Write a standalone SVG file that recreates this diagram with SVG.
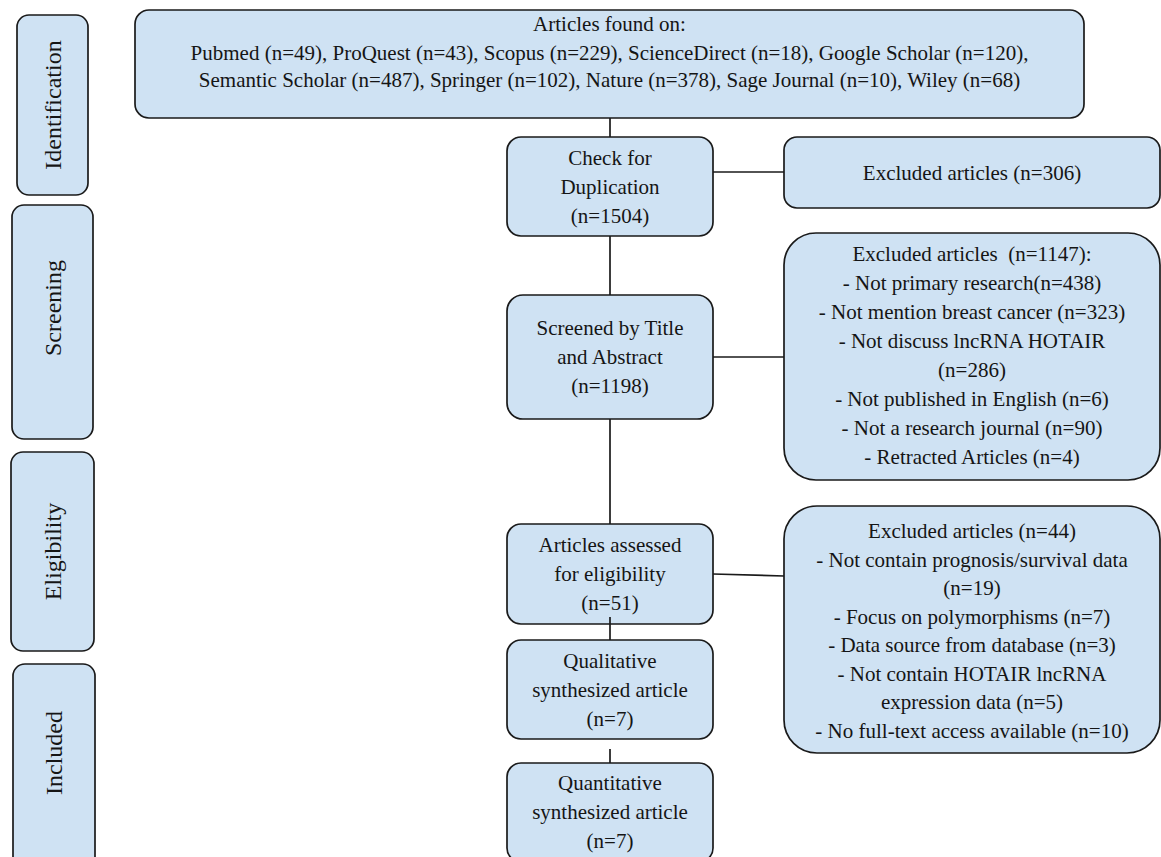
<svg xmlns="http://www.w3.org/2000/svg" width="1161" height="857" viewBox="0 0 1161 857">
<style>
.box{fill:#cfe2f3;stroke:#1a1a1a;stroke-width:1.7}
.t{font-family:"Liberation Serif","Times New Roman",serif;font-size:21px;fill:#151515;text-anchor:middle}
.s{font-family:"Liberation Serif","Times New Roman",serif;font-size:24px;fill:#151515;text-anchor:middle;dominant-baseline:central}
.c{stroke:#1a1a1a;stroke-width:1.7;fill:none}
</style>
<rect x="0" y="0" width="1161" height="857" fill="#ffffff"/>
<g id="connectors">
<line class="c" x1="610" y1="118" x2="610" y2="137"/>
<line class="c" x1="610" y1="236" x2="610" y2="295"/>
<line class="c" x1="610" y1="419" x2="610" y2="524"/>
<line class="c" x1="610" y1="749" x2="610" y2="763"/>
<line class="c" x1="713" y1="172" x2="784" y2="172"/>
<line class="c" x1="713" y1="357" x2="784" y2="357"/>
<line class="c" x1="713" y1="574" x2="784" y2="576"/>
</g>
<g id="stage-identification">
<rect class="box" x="17" y="15" width="71" height="180" rx="12"/>
<text class="s" transform="translate(52.5,105) rotate(-90)">Identification</text>
</g>
<g id="stage-screening">
<rect class="box" x="12" y="205" width="81" height="234" rx="12"/>
<text class="s" transform="translate(52.5,308) rotate(-90)">Screening</text>
</g>
<g id="stage-eligibility">
<rect class="box" x="11" y="452" width="83" height="199" rx="12"/>
<text class="s" transform="translate(52.5,551.5) rotate(-90)">Eligibility</text>
</g>
<g id="stage-included">
<rect class="box" x="13" y="664" width="82" height="210" rx="12"/>
<text class="s" transform="translate(54,753) rotate(-90)">Included</text>
</g>
<g id="articles-found">
<rect class="box" x="135" y="10" width="949" height="108" rx="14"/>
<text class="t" x="609.5" y="30.5">Articles found on:</text>
<text class="t" x="609.5" y="59.5">Pubmed (n=49), ProQuest (n=43), Scopus (n=229), ScienceDirect (n=18), Google Scholar (n=120),</text>
<text class="t" x="609.5" y="86.5">Semantic Scholar (n=487), Springer (n=102), Nature (n=378), Sage Journal (n=10), Wiley (n=68)</text>
</g>
<g id="check-duplication">
<rect class="box" x="507" y="137" width="206" height="99" rx="14"/>
<text class="t" x="610" y="165">Check for</text>
<text class="t" x="610" y="194">Duplication</text>
<text class="t" x="610" y="223">(n=1504)</text>
</g>
<g id="excluded-306">
<rect class="box" x="784" y="137" width="376" height="71" rx="13"/>
<text class="t" x="972" y="179.5">Excluded articles (n=306)</text>
</g>
<g id="screened">
<rect class="box" x="507" y="295" width="206" height="124" rx="16"/>
<text class="t" x="610" y="335">Screened by Title</text>
<text class="t" x="610" y="364">and Abstract</text>
<text class="t" x="610" y="393">(n=1198)</text>
</g>
<g id="excluded-1147">
<rect class="box" x="784" y="233" width="376" height="247" rx="32"/>
<text class="t" x="972" y="261" xml:space="preserve">Excluded articles  (n=1147):</text>
<text class="t" x="972" y="290">- Not primary research(n=438)</text>
<text class="t" x="972" y="319">- Not mention breast cancer (n=323)</text>
<text class="t" x="972" y="348">- Not discuss lncRNA HOTAIR</text>
<text class="t" x="972" y="377">(n=286)</text>
<text class="t" x="972" y="406">- Not published in English (n=6)</text>
<text class="t" x="972" y="435">- Not a research journal (n=90)</text>
<text class="t" x="972" y="464">- Retracted Articles (n=4)</text>
</g>
<g id="assessed">
<rect class="box" x="507" y="524" width="206" height="100" rx="14"/>
<text class="t" x="610" y="552">Articles assessed</text>
<text class="t" x="610" y="581">for eligibility</text>
<text class="t" x="610" y="610">(n=51)</text>
</g>
<g id="excluded-44">
<rect class="box" x="784" y="506" width="376" height="247" rx="33"/>
<text class="t" x="972" y="538">Excluded articles (n=44)</text>
<text class="t" x="972" y="566.6">- Not contain prognosis/survival data</text>
<text class="t" x="972" y="595.1">(n=19)</text>
<text class="t" x="972" y="623.7">- Focus on polymorphisms (n=7)</text>
<text class="t" x="972" y="652.3">- Data source from database (n=3)</text>
<text class="t" x="972" y="680.9">- Not contain HOTAIR lncRNA</text>
<text class="t" x="972" y="709.4">expression data (n=5)</text>
<text class="t" x="972" y="738">- No full-text access available (n=10)</text>
</g>
<g id="qualitative">
<rect class="box" x="507" y="640" width="206" height="99" rx="14"/>
<text class="t" x="610" y="667.5">Qualitative</text>
<text class="t" x="610" y="696.5">synthesized article</text>
<text class="t" x="610" y="725.5">(n=7)</text>
</g>
<g id="quantitative">
<rect class="box" x="507" y="763" width="206" height="99" rx="14"/>
<text class="t" x="610" y="790">Quantitative</text>
<text class="t" x="610" y="819">synthesized article</text>
<text class="t" x="610" y="848">(n=7)</text>
</g>
<line class="c" x1="610" y1="617" x2="610" y2="640"/>
</svg>
